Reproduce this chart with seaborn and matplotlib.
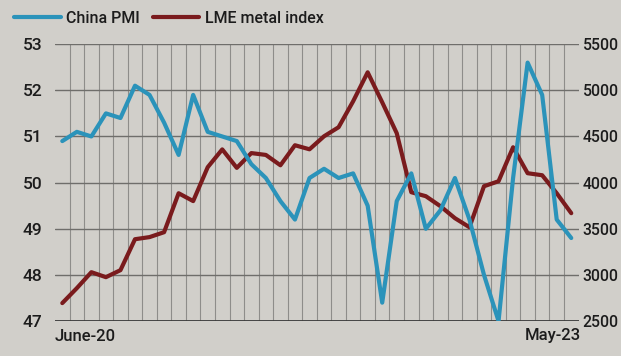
import numpy as np
import pandas as pd
import matplotlib
matplotlib.use("Agg")
import matplotlib.pyplot as plt
import seaborn as sns

# monthly data, June 2020 - May 2023
months = pd.date_range("2020-06-01", periods=36, freq="MS").strftime("%b-%y").tolist()

china_pmi = [50.9, 51.1, 51.0, 51.5, 51.4, 52.1, 51.9,
             51.3, 50.6, 51.9, 51.1, 51.0, 50.9, 50.4, 50.1, 49.6, 49.2, 50.1, 50.3,
             50.1, 50.2, 49.5, 47.4, 49.6, 50.2, 49.0, 49.4, 50.1, 49.2, 48.0, 47.0,
             50.1, 52.6, 51.9, 49.2, 48.8]

lme_index = [2695, 2857, 3030, 2976, 3052, 3387, 3410,
             3463, 3885, 3800, 4167, 4360, 4160, 4320, 4300, 4188, 4405, 4361, 4502,
             4600, 4881, 5195, 4870, 4535, 3896, 3853, 3745, 3615, 3517, 3961, 4015,
             4383, 4102, 4080, 3885, 3669]

left_ticks = [47, 48, 49, 50, 51, 52, 53]
right_ticks = [2500, 3000, 3500, 4000, 4500, 5000, 5500]
first_label, last_label = "June-20", "May-23"

df = pd.DataFrame({"month": months, "pmi": china_pmi, "lme": lme_index})
df["pos"] = np.arange(len(df))

bg = "#d1cfca"
blue = "#2b93ba"
red = "#7a1b1d"
txt = "#1c1c1c"

sns.set_theme(style="white")
plt.rcParams["font.family"] = ["Roboto", "DejaVu Sans"]

fig = plt.figure(figsize=(6.21, 3.56), dpi=100, facecolor=bg)
ax = fig.add_axes([0.0886, 0.098, 0.843, 0.778])
ax2 = ax.twinx()

sns.lineplot(data=df, x="pos", y="pmi", ax=ax, color=blue, lw=3, label="China PMI", legend=False)
sns.lineplot(data=df, x="pos", y="lme", ax=ax2, color=red, lw=3, label="LME metal index", legend=False)

# blue on top of red
ax.set_zorder(ax2.get_zorder() + 1)
ax.patch.set_visible(False)
ax2.patch.set_facecolor(bg)

n = len(df)
ax.set_xlim(-0.5, n - 0.5)
ax.set_ylim(left_ticks[0], left_ticks[-1])
ax2.set_ylim(right_ticks[0], right_ticks[-1])

# monthly vertical grid between points
for i in range(n - 1):
    ax2.axvline(i + 0.5, color="#8e8d8a", lw=0.8, zorder=0)
for v in right_ticks[1:]:
    ax2.axhline(v, color="#6f6e6b", lw=1.0, zorder=0)
ax2.axhline(right_ticks[0], color="#3a3a3a", lw=1.3, zorder=1)

ax.set_yticks(left_ticks)
ax2.set_yticks(right_ticks)
ax.set_xticks([])
ax.set_xlabel("")
ax.set_ylabel("")
ax2.set_ylabel("")
for a in (ax, ax2):
    for s in a.spines.values():
        s.set_visible(False)
ax.tick_params(axis="y", length=0, pad=9, labelsize=12.5, labelcolor=txt)
ax2.tick_params(axis="y", length=0, pad=3, labelsize=11.3, labelcolor=txt)
for lab in ax.get_yticklabels() + ax2.get_yticklabels():
    lab.set_fontweight("medium")

ax.text(0.0, -0.03, first_label, transform=ax.transAxes, ha="left", va="top",
        fontsize=12, color=txt, fontweight="medium")
ax.text(1.005, -0.025, last_label, transform=ax.transAxes, ha="right", va="top",
        fontsize=12, color=txt, fontweight="medium")

h1, l1 = ax.get_legend_handles_labels()
h2, l2 = ax2.get_legend_handles_labels()
leg = fig.legend(h1 + h2, l1 + l2, loc="upper left", bbox_to_anchor=(0.0, 1.01), ncol=2,
                 frameon=False, handlelength=2.9, handletextpad=0.35, columnspacing=0.8,
                 prop={"size": 11.5, "weight": "medium"})
for t in leg.get_texts():
    t.set_color(txt)

fig.savefig("out.png", dpi=100, facecolor=bg)
